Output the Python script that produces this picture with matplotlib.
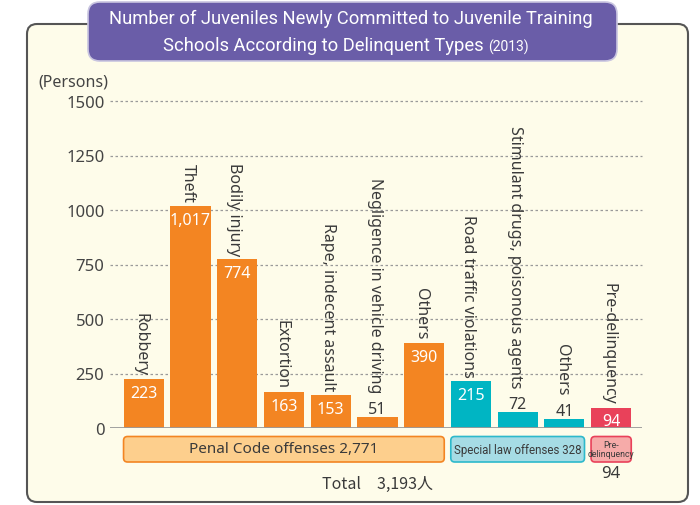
import matplotlib
matplotlib.use('Agg')
import matplotlib.pyplot as plt
from matplotlib.patches import FancyBboxPatch

# data
categories = ['Robbery', 'Theft', 'Bodily injury', 'Extortion', 'Rape, indecent assault',
              'Negligence in vehicle driving', 'Others', 'Road traffic violations',
              'Stimulant drugs, poisonous agents', 'Others', 'Pre-delinquency']
values = [223, 1017, 774, 163, 153, 51, 390, 215, 72, 41, 94]
value_labels = ['223', '1,017', '774', '163', '153', '51', '390', '215', '72', '41', '94']
groups = ['penal'] * 7 + ['special'] * 3 + ['pre']
group_names = {'penal': 'Penal Code offenses 2,771',
               'special': 'Special law offenses 328',
               'pre': 'Pre-\ndelinquency'}
yticks = [0, 250, 500, 750, 1000, 1250, 1500]
total_label = 'Total\u30003,193人'
pre_total = '94'

bar_colors = {'penal': '#F38522', 'special': '#00B5C3', 'pre': '#E9415A'}
box_fill = {'penal': '#FDCF8D', 'special': '#A6DCE5', 'pre': '#F6ABA9'}
box_edge = {'penal': '#F38522', 'special': '#2DB9CB', 'pre': '#E9415A'}
text_col = '#3a3a3a'
narrow = ['Roboto', 'DejaVu Sans']

plt.rcParams['font.family'] = ['Noto Sans', 'DejaVu Sans']

fig = plt.figure(figsize=(7, 5.06), dpi=100)

# background layer in pixel coordinates
bg = fig.add_axes([0, 0, 1, 1])
bg.set_xlim(0, 700)
bg.set_ylim(506, 0)
bg.axis('off')
bg.add_patch(FancyBboxPatch((27, 25), 661, 478, boxstyle='round,pad=0,rounding_size=10',
                            fc='#FEFCEA', ec='#555555', lw=1.5))
bg.add_patch(FancyBboxPatch((88, 3), 529, 59, boxstyle='round,pad=0,rounding_size=12',
                            fc='#6A5DA8', ec='#c9c5e0', lw=1.2))
bg.text(351, 19, 'Number of Juveniles Newly Committed to Juvenile Training',
        ha='center', va='center', color='white', fontsize=13.2, family=narrow)
bg.text(484, 46, 'Schools According to Delinquent Types', ha='right', va='center',
        color='white', fontsize=13.2, family=narrow)
bg.text(488, 47, '(2013)', ha='left', va='center', color='white', fontsize=10, family=narrow)

# main chart
ax = fig.add_axes([110 / 700, 77 / 506, 532 / 700, 327 / 506])
ax.set_facecolor('none')
x = list(range(len(values)))
ax.set_xlim(-0.72, 10.66)
ax.set_ylim(0, 1500)

for t in yticks[1:]:
    ax.axhline(t, color='#9a9a9a', lw=0.9, linestyle=(0, (2, 2)), zorder=0, clip_on=False)
ax.axhline(0, color='#9a9a9a', lw=1.3, zorder=3)

ax.bar(x, values, width=0.86, color=[bar_colors[g] for g in groups], zorder=2)

for i, (v, lab, cat) in enumerate(zip(values, value_labels, categories)):
    if v >= 90:
        ax.annotate(lab, (i, v), xytext=(0, -10), textcoords='offset points',
                    ha='center', va='center', color='white', fontsize=11.5)
        off = 3
    else:
        ax.annotate(lab, (i, v), xytext=(0, 6), textcoords='offset points',
                    ha='center', va='center', color=text_col, fontsize=11.5)
        off = 18
    ax.annotate(cat, (i, v), xytext=(-2, off), textcoords='offset points',
                rotation=-90, ha='center', va='bottom', color=text_col, fontsize=11.5)

ax.set_xticks([])
ax.set_yticks(yticks)
ax.set_yticklabels([str(t) for t in yticks], fontsize=12, color='#444444')
ax.tick_params(axis='y', length=0, pad=4)
for s in ax.spines.values():
    s.set_visible(False)
ax.text(-0.068, 1.061, '(Persons)', transform=ax.transAxes, ha='center', va='center',
        fontsize=11.5, color='#444444')

# group boxes under the bars, placed from the bar positions
to_bg = bg.transData.inverted()
for g in ['penal', 'special', 'pre']:
    idx = [i for i, gg in enumerate(groups) if gg == g]
    x0 = to_bg.transform(ax.transData.transform((idx[0] - 0.43, 0)))[0]
    x1 = to_bg.transform(ax.transData.transform((idx[-1] + 0.43, 0)))[0]
    bg.add_patch(FancyBboxPatch((x0, 437.5), x1 - x0, 25.5, boxstyle='round,pad=0,rounding_size=4',
                                fc=box_fill[g], ec=box_edge[g], lw=1.2, zorder=3))
    xc = (x0 + x1) / 2
    if g == 'penal':
        bg.text(xc, 450, group_names[g], ha='center', va='center', fontsize=11,
                color=text_col, zorder=4)
    elif g == 'special':
        bg.text(xc, 450.5, group_names[g], ha='center', va='center', fontsize=8.3,
                color=text_col, family=narrow, zorder=4)
    else:
        bg.text(xc, 450, group_names[g], ha='center', va='center', fontsize=6.3,
                color=text_col, family=narrow, linespacing=0.9, zorder=4)
        bg.text(xc, 474, pre_total, ha='center', va='center', fontsize=12,
                color=text_col, zorder=4)

bg.text(377, 484, total_label, ha='center', va='center', fontsize=11.5, color=text_col,
        family=['Noto Sans CJK JP', 'DejaVu Sans'])

fig.savefig('out.png', dpi=100)
